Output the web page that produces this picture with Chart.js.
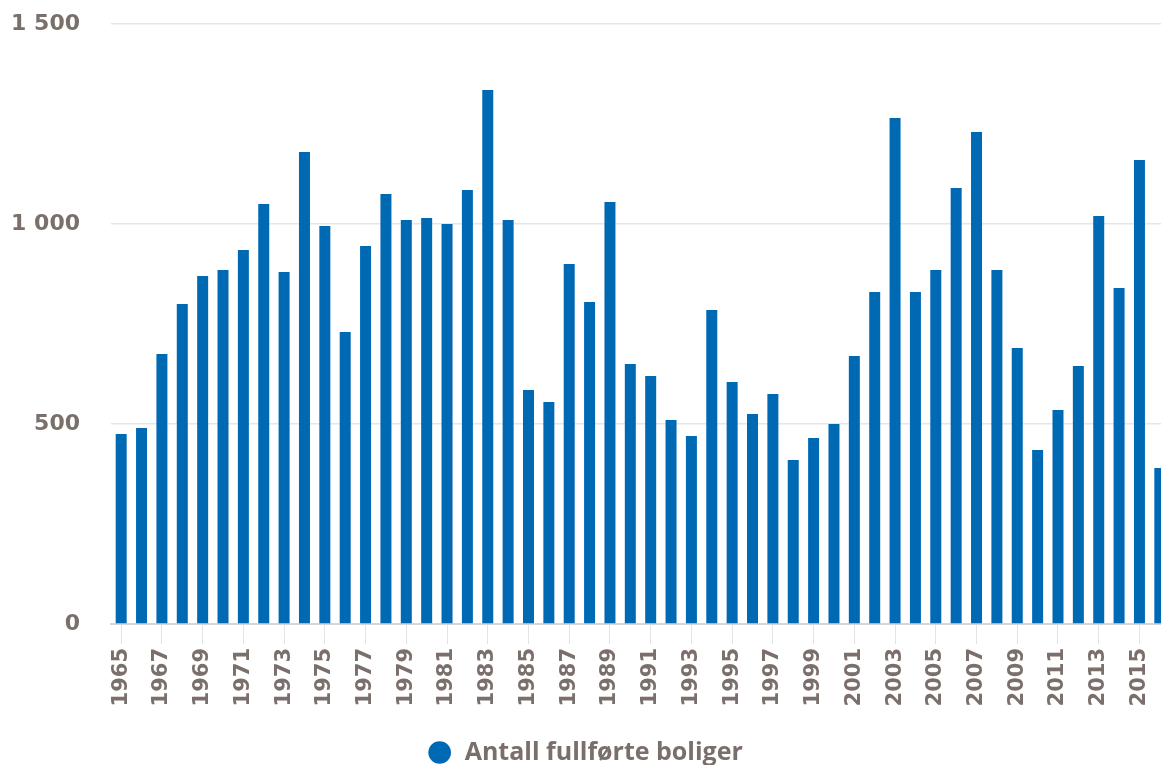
<!doctype html>
<html lang="no">
<head>
<meta charset="utf-8">
<title>Antall fullførte boliger</title>
<script src="https://cdn.jsdelivr.net/npm/chart.js@4"></script>
<style>
  html, body { margin: 0; padding: 0; overflow: hidden; background: #fff; }
  #wrap { width: 1161px; height: 765px; overflow: hidden; }
</style>
</head>
<body>
<div id="wrap">
  <canvas id="chart" width="1171" height="775"></canvas>
</div>
<script>
var years = ["1965","1966","1967","1968","1969","1970","1971","1972","1973","1974",
             "1975","1976","1977","1978","1979","1980","1981","1982","1983","1984",
             "1985","1986","1987","1988","1989","1990","1991","1992","1993","1994",
             "1995","1996","1997","1998","1999","2000","2001","2002","2003","2004",
             "2005","2006","2007","2008","2009","2010","2011","2012","2013","2014",
             "2015","2016"];

var boliger = [475, 490, 675, 800, 870, 885, 935, 1050, 880, 1180,
               995, 730, 945, 1075, 1010, 1015, 1000, 1085, 1335, 1010,
               585, 555, 900, 805, 1055, 650, 620, 510, 470, 785,
               605, 525, 575, 410, 465, 500, 670, 830, 1265, 830,
               885, 1090, 1230, 885, 690, 435, 535, 645, 1020, 840,
               1160, 390];

var seriesName = "Antall fullførte boliger";
var yTicks = [0, 500, 1000, 1500];

var textColor = "#7a6f6b";
var barColor = "#0069b4";

// 1500 -> "1 500"
function fmt(v) {
  return String(v).replace(/\B(?=(\d{3})+(?!\d))/g, " ");
}

var ctx = document.getElementById("chart").getContext("2d");
var myChart = new Chart(ctx, {
  type: "bar",
  data: {
    labels: years,
    datasets: [{
      label: seriesName,
      data: boliger,
      backgroundColor: barColor,
      borderWidth: 0,
      barPercentage: 0.54,
      categoryPercentage: 1.0
    }]
  },
  options: {
    responsive: false,
    animation: false,
    layout: { padding: { top: 24, left: 0, right: 1, bottom: 0 } },
    plugins: {
      tooltip: { enabled: false },
      legend: {
        position: "bottom",
        labels: {
          usePointStyle: true,
          pointStyle: "circle",
          boxHeight: 16,
          color: textColor,
          padding: 0,
          font: { family: "'Open Sans', sans-serif", size: 25, weight: "bold" }
        }
      }
    },
    scales: {
      x: {
        offset: true,
        grid: {
          offset: false,
          drawOnChartArea: false,
          drawTicks: true,
          tickLength: 20,
          color: function (c) { return c.index % 2 === 0 ? "#e3e3e3" : "rgba(0,0,0,0)"; }
        },
        border: { display: true, color: "#d6d6d6", width: 2 },
        afterFit: function (axis) {
          axis.paddingLeft = 0;
          axis.paddingRight = 0;
          axis.height = 116;
        },
        ticks: {
          autoSkip: false,
          maxRotation: 90,
          minRotation: 90,
          padding: 4,
          color: textColor,
          font: { family: "'DejaVu Sans', sans-serif", size: 21, weight: "bold" },
          callback: function (val, i) { return i % 2 === 0 ? years[i] : ""; }
        }
      },
      y: {
        min: 0,
        max: 1500,
        afterBuildTicks: function (axis) {
          axis.ticks = yTicks.map(function (v) { return { value: v }; });
        },
        afterFit: function (axis) {
          axis.width = 111;
          axis.paddingTop = 0;
          axis.paddingBottom = 0;
        },
        grid: { color: "#e6e6e6", lineWidth: 1.5, drawTicks: false },
        border: { display: false },
        ticks: {
          padding: 31,
          color: textColor,
          font: { family: "'DejaVu Sans', sans-serif", size: 22, weight: "bold" },
          callback: function (v) { return fmt(v); }
        }
      }
    }
  }
});
</script>
</body>
</html>
